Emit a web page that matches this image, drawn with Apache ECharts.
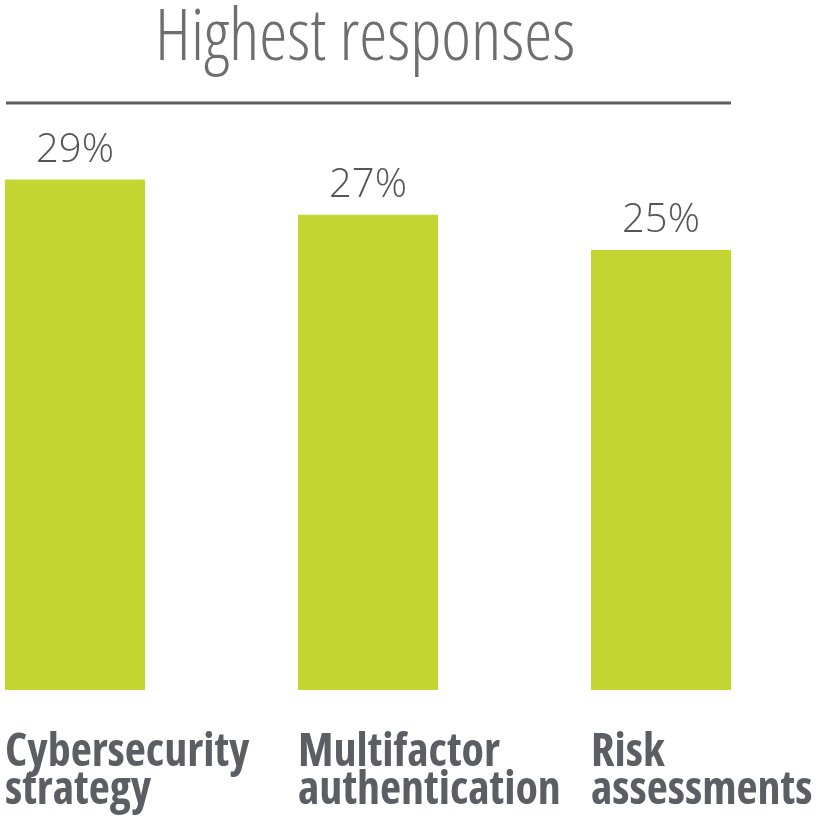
<!DOCTYPE html>
<html>
<head>
<meta charset="utf-8">
<script src="https://cdn.jsdelivr.net/npm/echarts@6/dist/echarts.min.js"></script>
<style>html,body{margin:0;padding:0;background:#fff}#chart{width:818px;height:822px}</style>
</head>
<body>
<div id="chart"></div>
<script>
// Share of highest responses per initiative
const categories = ['Cybersecurity\nstrategy', 'Multifactor\nauthentication', 'Risk\nassessments'];
const shares = [29, 27, 25];
const titleText = 'Highest responses';

const chart = echarts.init(document.getElementById('chart'), null, { renderer: 'canvas' });

chart.setOption({
  animation: false,
  backgroundColor: '#ffffff',
  title: {
    text: titleText,
    left: 365,
    top: 0,
    padding: 0,
    textAlign: 'center',
    textStyle: {
      fontFamily: '"Open Sans"',
      fontWeight: '300 condensed',
      fontSize: 71,
      lineHeight: 80,
      color: '#6e6e6e'
    }
  },
  // ticks sit on the band edges so each bar is centred on its own tick
  grid: { left: 75, right: 157, top: 162, bottom: 132, containLabel: false },
  xAxis: {
    type: 'category',
    data: categories,
    boundaryGap: false,
    axisLine: { show: false },
    axisTick: { show: false },
    axisLabel: {
      interval: 0,
      margin: 44,
      align: 'center',
      formatter: function (v) {
        return v.split('\n').map(function (s) { return '{n|' + s + '}'; }).join('\n');
      },
      rich: {
        n: {
          width: 140,
          align: 'left',
          fontFamily: '"Open Sans"',
          fontWeight: 'bold condensed',
          fontSize: 46,
          lineHeight: 38,
          color: '#5b5e62'
        }
      }
    }
  },
  yAxis: {
    type: 'value',
    min: 0,
    max: 30,
    show: false,
    splitLine: { show: false }
  },
  series: [{
    type: 'bar',
    data: shares,
    barWidth: 140,
    clip: false,
    itemStyle: { color: '#c4d631' },
    label: {
      show: true,
      position: 'top',
      distance: 9,
      formatter: '{c}%',
      fontFamily: '"Open Sans"',
      fontWeight: 300,
      fontSize: 40,
      color: '#555555'
    }
  }],
  graphic: [
    {
      type: 'line',
      shape: { x1: 6, y1: 103, x2: 731, y2: 103 },
      style: { stroke: '#5c5c5c', lineWidth: 3 }
    }
  ]
});
</script>
</body>
</html>
